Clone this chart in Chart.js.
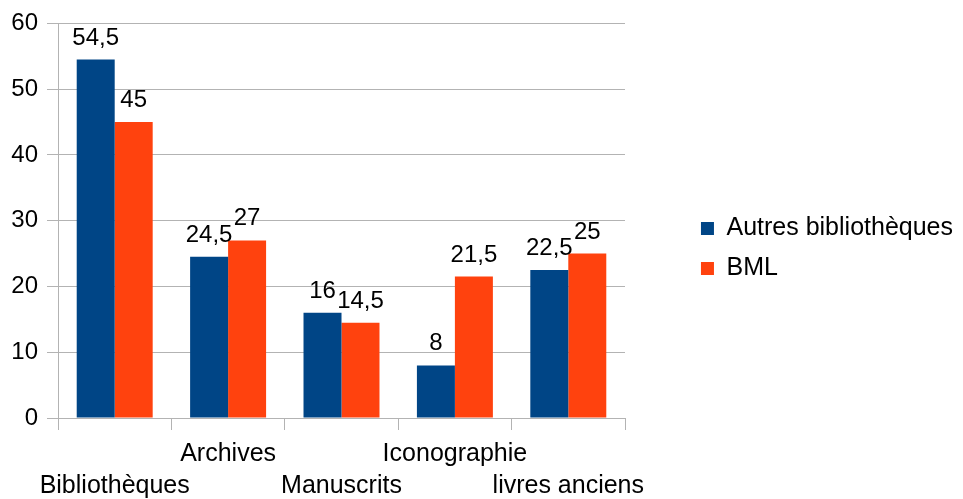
<!DOCTYPE html>
<html>
<head>
<meta charset="utf-8">
<script src="https://cdn.jsdelivr.net/npm/chart.js@4/dist/chart.umd.min.js"></script>
<style>
  html, body { margin: 0; padding: 0; background: #ffffff; }
  #wrap { width: 963px; height: 499px; }
</style>
</head>
<body>
<div id="wrap"><canvas id="chart" width="963" height="499"></canvas></div>
<script>
// Categories and series
const categories = ['Bibliothèques', 'Archives', 'Manuscrits', 'Iconographie', 'livres anciens'];
const autresBibliotheques = [54.5, 24.5, 16, 8, 22.5];
const bml = [45, 27, 14.5, 21.5, 25];
const seriesNames = ['Autres bibliothèques', 'BML'];

// Value axis
const yMin = 0;
const yMax = 60;
const yStep = 10;

const FONT = 'Liberation Sans, Arial, sans-serif';
const GRID = '#b3b3b3';
const PLOT_RIGHT = 625;

const fmt = v => String(v).replace('.', ',');

// Value labels above each bar
const barValues = {
  id: 'barValues',
  afterDatasetsDraw(chart) {
    const ctx = chart.ctx;
    ctx.save();
    ctx.font = '24px ' + FONT;
    ctx.fillStyle = '#000000';
    ctx.textAlign = 'center';
    ctx.textBaseline = 'alphabetic';
    chart.data.datasets.forEach((ds, di) => {
      chart.getDatasetMeta(di).data.forEach((bar, i) => {
        ctx.fillText(fmt(ds.data[i]), bar.x, bar.y - 15);
      });
    });
    ctx.restore();
  }
};

// Keep the legend block level with the middle of the plot
const legendPlace = {
  id: 'legendPlace',
  afterLayout(chart) {
    const lg = chart.legend;
    const dy = -12;
    lg.top += dy;
    lg.bottom += dy;
  }
};

new Chart(document.getElementById('chart'), {
  type: 'bar',
  data: {
    labels: categories,
    datasets: [
      { label: seriesNames[0], data: autresBibliotheques, backgroundColor: '#004586' },
      { label: seriesNames[1], data: bml, backgroundColor: '#ff420e' }
    ]
  },
  options: {
    responsive: false,
    animation: false,
    events: [],
    layout: { padding: { top: 22, left: 0, right: 0, bottom: 0 } },
    datasets: { bar: { categoryPercentage: 0.67, barPercentage: 1.0 } },
    plugins: {
      tooltip: { enabled: false },
      legend: {
        position: 'right',
        maxWidth: 400,
        labels: {
          color: '#000000',
          font: { family: FONT, size: 25 },
          boxWidth: 13,
          boxHeight: 13,
          padding: 15
        }
      }
    },
    scales: {
      x: {
        offset: true,
        grid: {
          offset: true,
          drawOnChartArea: false,
          drawTicks: true,
          tickLength: 12,
          color: GRID
        },
        border: { display: true, color: GRID },
        ticks: {
          color: '#000000',
          font: { family: FONT, size: 25, lineHeight: 32 / 25 },
          padding: 8,
          autoSkip: false,
          maxRotation: 0,
          minRotation: 0,
          callback: (v, i) => (i % 2 === 0 ? ['', categories[i]] : [categories[i], ''])
        },
        afterFit: s => { s.height = 81; }
      },
      y: {
        min: yMin,
        max: yMax,
        grid: { color: GRID, tickLength: 11, drawTicks: true },
        border: { display: true, color: GRID },
        ticks: {
          stepSize: yStep,
          color: '#000000',
          font: { family: FONT, size: 24 },
          padding: 9
        },
        afterFit: s => { s.width = 58; }
      },
      gap: {
        position: 'right',
        grid: { display: false },
        border: { display: false },
        ticks: { display: false },
        afterFit: s => { s.width = Math.max(0, s.chart.width - PLOT_RIGHT - s.chart.legend.width); }
      }
    }
  },
  plugins: [barValues, legendPlace]
});
</script>
</body>
</html>
